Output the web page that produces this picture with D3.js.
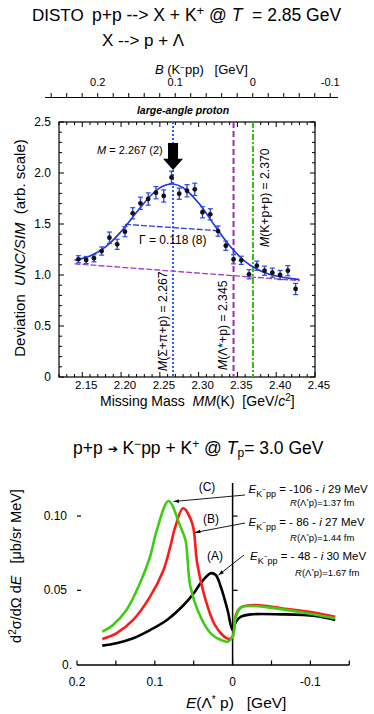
<!DOCTYPE html>
<html><head><meta charset="utf-8">
<script src="https://cdn.jsdelivr.net/npm/d3@7"></script>
<style>
html,body{margin:0;padding:0;background:#fff;}
svg{display:block;font-family:"Liberation Sans",Arial,Helvetica,sans-serif;}
svg text{white-space:pre;}
</style></head>
<body>
<svg id="c" width="374" height="714"></svg>
<script>
// ---------- Top chart data (DISTO) ----------
const mmX = [2.145,2.155,2.165,2.175,2.185,2.195,2.205,2.215,2.225,2.235,2.245,2.255,2.265,2.275,2.285,2.295,2.305,2.315,2.325,2.335,2.345,2.355,2.365,2.375,2.385,2.395,2.405,2.415,2.425];
const devY = [1.154,1.147,1.164,1.235,1.366,1.301,1.425,1.605,1.703,1.745,1.807,1.775,1.958,1.797,1.826,1.840,1.615,1.595,1.431,1.287,1.154,1.144,1.007,1.091,1.042,1.023,1.000,1.042,0.863];
const devErr = [0.035,0.035,0.035,0.04,0.055,0.05,0.05,0.055,0.06,0.06,0.06,0.06,0.06,0.055,0.06,0.06,0.055,0.055,0.05,0.045,0.045,0.04,0.045,0.045,0.045,0.045,0.045,0.05,0.055];
const fitX = [2.14,2.16,2.18,2.20,2.22,2.24,2.255,2.267,2.28,2.30,2.32,2.34,2.36,2.38,2.40,2.43];
const fitY = [1.145,1.186,1.276,1.425,1.615,1.792,1.875,1.892,1.855,1.705,1.492,1.287,1.131,1.040,0.990,0.955];
const bgX = [2.14,2.43];
const bgY = [1.11,0.945];
const halfX = [2.205,2.3255];
const halfY = [1.497,1.434];
const refMass = [2.267,2.345,2.370];
const refLabel = [["M","(Σ+π+p) = 2.267"],["M","(Λ*+p) = 2.345"],["M","(K+p+p) = 2.370"]];
const mmTicks = [2.15,2.20,2.25,2.30,2.35,2.40,2.45];
const devTicks = [0,0.5,1.0,1.5,2.0,2.5];
const bTicks = [0.2,0.1,0,-0.1];
const peakM = 2.267;

// ---------- Bottom chart data ----------
const eC = [0.1675,0.1538,0.1364,0.1191,0.1061,0.0974,0.0823,0.0671,0.0606,0.0542,0.0412,0.0282,0.0152,0.0065,0,-0.0043,-0.0108,-0.0238,-0.0455,-0.0844,-0.1319];
const vC = [0.0221,0.0266,0.0367,0.0547,0.0726,0.0906,0.1102,0.0929,0.0839,0.0524,0.0322,0.0210,0.0165,0.0154,0.0187,0.0322,0.0385,0.0394,0.0385,0.0356,0.0311];
const eB = [0.1675,0.1494,0.1278,0.1061,0.0888,0.0801,0.0736,0.0636,0.0519,0.0455,0.0347,0.0239,0.0130,0.0044,0,-0.0043,-0.0108,-0.0281,-0.0627,-0.1060,-0.1319];
const vB = [0.0172,0.0210,0.0300,0.0457,0.0637,0.0794,0.0929,0.1053,0.0951,0.0682,0.0435,0.0278,0.0199,0.0172,0.0187,0.0334,0.0385,0.0401,0.0379,0.0349,0.0322];
const eA = [0.1675,0.1494,0.1278,0.1061,0.0844,0.0629,0.0499,0.0412,0.0282,0.0217,0.0152,0.0065,0,-0.0043,-0.0108,-0.0238,-0.0627,-0.1060,-0.1319];
const vA = [0.0127,0.0143,0.0177,0.0232,0.0300,0.0401,0.0480,0.0547,0.0615,0.0603,0.0524,0.0367,0.0232,0.0288,0.0322,0.0338,0.0338,0.0327,0.0300];
const eTicks = [0.2,0.1,0,-0.1];
const vTicks = [0.05,0.10];
const curveNames = ["(C)","(B)","(A)"];
const energies = ["-106 - ","- 86 - ","- 48 - "];
const widths = [" 29 MeV"," 27 MeV"," 30 MeV"];
const radii = ["=1.37 fm","=1.44 fm","=1.67 fm"];

const svg = d3.select("#c");

// ================= TOP CHART =================
const x = d3.scaleLinear().domain([2.12,2.45]).range([59,315]);
const y = d3.scaleLinear().domain([0,2.5]).range([377,122]);
const bScale = d3.scaleLinear().domain([0.268,-0.11]).range([45,338]);

// titles
svg.append("text").attr("x",32).attr("y",20.5).attr("font-size",17).text("DISTO");
const t1b = svg.append("text").attr("x",92).attr("y",20.5).attr("font-size",17.5);
t1b.append("tspan").text("p+p --> X + K");
t1b.append("tspan").attr("dy",-6).attr("font-size",13).text("+");
t1b.append("tspan").attr("dy",6).text(" @ ");
t1b.append("tspan").attr("font-style","italic").text("T");
t1b.append("tspan").text("  = 2.85 GeV");
svg.append("text").attr("x",102).attr("y",45.5).attr("font-size",17).text("X --> p + Λ");

// B axis (top)
const bt = svg.append("text").attr("x",155).attr("y",73.5).attr("font-size",13);
bt.append("tspan").attr("font-style","italic").text("B");
bt.append("tspan").text(" (K");
bt.append("tspan").attr("dy",-4).attr("font-size",8).text("−");
bt.append("tspan").attr("dy",4).text("pp)   [GeV]");
svg.append("line").attr("x1",45).attr("x2",338).attr("y1",97.5).attr("y2",97.5).attr("stroke","#000").attr("stroke-width",1);
const bMinor = d3.range(26,-12,-2).map(d=>d/100);
svg.selectAll(".bmin").data(bMinor).enter().append("line")
  .attr("x1",d=>bScale(d)).attr("x2",d=>bScale(d)).attr("y1",97.5).attr("y2",93)
  .attr("stroke","#000").attr("stroke-width",1);
svg.selectAll(".blab").data(bTicks).enter().append("text")
  .attr("x",d=>bScale(d)).attr("y",85.5).attr("text-anchor","middle").attr("font-size",11)
  .text(d=>d===0?"0":String(d));

svg.append("text").attr("x",183).attr("y",113.5).attr("text-anchor","middle")
  .attr("font-size",10.5).attr("font-weight","bold").attr("font-style","italic").text("large-angle proton");

// frame
const g = svg.append("g");
g.append("rect").attr("x",59).attr("y",122).attr("width",256).attr("height",255)
  .attr("fill","none").attr("stroke","#000").attr("stroke-width",1.2);

// y ticks (left and right, inward)
const yMinor = d3.range(0,26).map(d=>d/10);
yMinor.forEach(v=>{
  const major = Math.abs(v*2-Math.round(v*2))<1e-6;
  const L = major?5:3;
  g.append("line").attr("x1",59).attr("x2",59+L).attr("y1",y(v)).attr("y2",y(v)).attr("stroke","#000");
  g.append("line").attr("x1",315).attr("x2",315-L).attr("y1",y(v)).attr("y2",y(v)).attr("stroke","#000");
});
g.selectAll(".ylab").data(devTicks).enter().append("text")
  .attr("x",51).attr("y",d=>y(d)+4).attr("text-anchor","end").attr("font-size",12)
  .text(d=>d===0?"0":d.toFixed(1));

// x ticks
const xMinor = d3.range(212,246).map(d=>d/100);
xMinor.forEach(v=>{
  const major = Math.abs(v*20-Math.round(v*20))<1e-6;
  const L = major?5:3;
  g.append("line").attr("x1",x(v)).attr("x2",x(v)).attr("y1",377).attr("y2",377-L).attr("stroke","#000");
  g.append("line").attr("x1",x(v)).attr("x2",x(v)).attr("y1",122).attr("y2",122+L).attr("stroke","#000");
});
g.selectAll(".xlab").data(mmTicks).enter().append("text")
  .attr("x",d=>x(d)+4).attr("y",389).attr("text-anchor","middle").attr("font-size",11.5)
  .text(d=>d.toFixed(2));

// axis titles
const xt = svg.append("text").attr("x",100).attr("y",406).attr("font-size",14);
xt.append("tspan").text("Missing Mass  ");
xt.append("tspan").attr("font-style","italic").text("MM");
xt.append("tspan").text("(K)  [GeV/");
xt.append("tspan").attr("font-style","italic").text("c");
xt.append("tspan").attr("dy",-5).attr("font-size",10).text("2");
xt.append("tspan").attr("dy",5).text("]");

const yt = svg.append("text").attr("transform","translate(25,248) rotate(-90)")
  .attr("text-anchor","middle").attr("font-size",15);
yt.append("tspan").text("Deviation  ");
yt.append("tspan").attr("font-style","italic").text("UNC/SIM");
yt.append("tspan").text("  (arb. scale)");

// reference lines
const refColor = ["#2a5cff","#9b2fa8","#33bb11"];
const refDash = ["2,2","6,3","6,2,2,2"];
refMass.forEach((m,i)=>{
  g.append("line").attr("x1",x(m)).attr("x2",x(m)).attr("y1",122).attr("y2",377)
    .attr("stroke",refColor[i]).attr("stroke-width",2).attr("stroke-dasharray",refDash[i]);
});
// rotated labels (offset in px from their line)
const refLabOff = [[-6.5,371],[-6.5,370],[16,247]];
refMass.forEach((m,i)=>{
  const tt = g.append("text").attr("transform",`translate(${x(m)+refLabOff[i][0]},${refLabOff[i][1]}) rotate(-90)`)
    .attr("font-size",12.2);
  tt.append("tspan").attr("font-style","italic").text(refLabel[i][0]);
  tt.append("tspan").text(refLabel[i][1]);
});

// background (purple dashed) line
const line = d3.line().x(d=>x(d[0])).y(d=>y(d[1]));
g.append("path").attr("d",line(bgX.map((d,i)=>[d,bgY[i]])))
  .attr("fill","none").attr("stroke","#9b3fc0").attr("stroke-width",1.3).attr("stroke-dasharray","6,2");
// half-max line (blue dashed)
g.append("path").attr("d",line(halfX.map((d,i)=>[d,halfY[i]])))
  .attr("fill","none").attr("stroke","#2a3fe0").attr("stroke-width",1.3).attr("stroke-dasharray","6,2");
// fit curve
const cline = d3.line().x(d=>x(d[0])).y(d=>y(d[1])).curve(d3.curveCatmullRom);
g.append("path").attr("d",cline(fitX.map((d,i)=>[d,fitY[i]])))
  .attr("fill","none").attr("stroke","#2233dd").attr("stroke-width",1.6);

// error bars & points
mmX.forEach((m,i)=>{
  const cx=x(m), y1=y(devY[i]+devErr[i]), y2=y(devY[i]-devErr[i]);
  g.append("line").attr("x1",cx).attr("x2",cx).attr("y1",y1).attr("y2",y2).attr("stroke","#2a4be0").attr("stroke-width",1.4);
  g.append("line").attr("x1",cx-2.5).attr("x2",cx+2.5).attr("y1",y1).attr("y2",y1).attr("stroke","#2a4be0").attr("stroke-width",1.2);
  g.append("line").attr("x1",cx-2.5).attr("x2",cx+2.5).attr("y1",y2).attr("y2",y2).attr("stroke","#2a4be0").attr("stroke-width",1.2);
  g.append("circle").attr("cx",cx).attr("cy",y(devY[i])).attr("r",2.4).attr("fill","#111");
});

// M annotation and arrow
const mt = g.append("text").attr("x",97).attr("y",153.5).attr("font-size",11);
mt.append("tspan").attr("font-style","italic").text("M");
mt.append("tspan").text(" = 2.267 (2)");
const ax = x(peakM);
const aTop=y(2.294), aMid=y(2.14), aTip=y(2.03);
g.append("path").attr("d",`M${ax-5},${aTop} L${ax+5},${aTop} L${ax+5},${aMid} L${ax+10},${aMid} L${ax},${aTip} L${ax-10},${aMid} L${ax-5},${aMid} Z`).attr("fill","#000");

g.append("text").attr("x",139).attr("y",244).attr("font-size",12).text("Γ = 0.118 (8)");

// ================= BOTTOM CHART =================
const ex = d3.scaleLinear().domain([0.2,-0.15]).range([77,349.3]);
const vy = d3.scaleLinear().domain([0,0.12]).range([664.5,486.4]);

const bt2 = svg.append("text").attr("x",73).attr("y",454).attr("font-size",17.5);
bt2.append("tspan").text("p+p ");
bt2.append("tspan").attr("font-size",12).attr("dy",-1).text("➔");
bt2.append("tspan").attr("dy",1).text(" K");
bt2.append("tspan").attr("dy",-6).attr("font-size",12).text("−");
bt2.append("tspan").attr("dy",6).text("pp + K");
bt2.append("tspan").attr("dy",-6).attr("font-size",12).text("+");
bt2.append("tspan").attr("dy",6).text(" @ ");
bt2.append("tspan").attr("font-style","italic").text("T");
bt2.append("tspan").attr("dy",3).attr("font-size",12).text("p");
bt2.append("tspan").attr("dy",-3).text("= 3.0 GeV");

// x axis
svg.append("line").attr("x1",77).attr("x2",349.3).attr("y1",665).attr("y2",665).attr("stroke","#000").attr("stroke-width",1.5);
const eMinor = d3.range(20,-16,-5).map(d=>d/100);
svg.selectAll(".etk").data(eMinor).enter().append("line")
  .attr("x1",d=>ex(d)).attr("x2",d=>ex(d)).attr("y1",665).attr("y2",660.5).attr("stroke","#000").attr("stroke-width",1.2);
svg.selectAll(".elab").data(eTicks).enter().append("text")
  .attr("x",d=>ex(d)).attr("y",686).attr("text-anchor","middle").attr("font-size",12)
  .text(d=>d===0?"0":String(d));
// y axis at E=0
svg.append("line").attr("x1",ex(0)).attr("x2",ex(0)).attr("y1",483).attr("y2",665).attr("stroke","#000").attr("stroke-width",1.5);
svg.selectAll(".vtk").data(vTicks).enter().append("line")
  .attr("x1",ex(0)).attr("x2",ex(0)+5).attr("y1",d=>vy(d)).attr("y2",d=>vy(d)).attr("stroke","#000").attr("stroke-width",1.2);
svg.selectAll(".vdash").data(vTicks).enter().append("line")
  .attr("x1",77).attr("x2",81).attr("y1",d=>vy(d)).attr("y2",d=>vy(d)).attr("stroke","#000").attr("stroke-width",1.2);
svg.selectAll(".vlab").data(vTicks).enter().append("text")
  .attr("x",67).attr("y",d=>vy(d)+4).attr("text-anchor","end").attr("font-size",12).text(d=>d.toFixed(2));
svg.append("text").attr("x",72).attr("y",vy(0)+4).attr("text-anchor","end").attr("font-size",12).text("0.");

// axis titles
const et = svg.append("text").attr("x",186).attr("y",708).attr("font-size",15.5);
et.append("tspan").attr("font-style","italic").text("E");
et.append("tspan").text("(Λ");
et.append("tspan").attr("dy",-5).attr("font-size",10).text("*");
et.append("tspan").attr("dy",5).text(" p)   [GeV]");

const vt = svg.append("text").attr("transform","translate(21,566) rotate(-90)").attr("text-anchor","middle").attr("font-size",14.5);
vt.append("tspan").text("d");
vt.append("tspan").attr("dy",-5).attr("font-size",10).text("2");
vt.append("tspan").attr("dy",5).text("σ/dΩ d");
vt.append("tspan").attr("font-style","italic").text("E");
vt.append("tspan").text("   [μb/sr MeV]");

// curves
const eline = d3.line().x(d=>ex(d[0])).y(d=>vy(d[1])).curve(d3.curveCatmullRom);
[[eA,vA,"#000"],[eB,vB,"#ff1a1a"],[eC,vC,"#3dcc14"]].forEach(([es,vs,col])=>{
  svg.append("path").attr("d",eline(es.map((e,i)=>[e,vs[i]])))
    .attr("fill","none").attr("stroke",col).attr("stroke-width",2.6).attr("stroke-linejoin","round");
});

// annotations
svg.append("defs").append("marker").attr("id","ah").attr("viewBox","0 0 10 10").attr("refX",10).attr("refY",5)
  .attr("markerWidth",7).attr("markerHeight",6).attr("orient","auto")
  .append("path").attr("d","M0,1.5 L10,5 L0,8.5 Z").attr("fill","#000");
const arrows = [[245,495,173.5,501.5],[245,523,195,532.5],[244,555,218.5,575]];
arrows.forEach(a=>{
  svg.append("line").attr("x1",a[0]).attr("y1",a[1]).attr("x2",a[2]).attr("y2",a[3])
    .attr("stroke","#000").attr("stroke-width",0.9).attr("marker-end","url(#ah)");
});
const nameXY = [[207,491],[211,523],[215,560]];
curveNames.forEach((n,i)=>{
  svg.append("text").attr("x",nameXY[i][0]).attr("y",nameXY[i][1]).attr("text-anchor","middle").attr("font-size",12).text(n);
});
const eTxtY = [492.5,526,560];
const rTxtY = [505.5,540.5,575.5];
const eTxtX = [248.5,248.5,250];
const rTxtX = [290,290,295];
energies.forEach((en,i)=>{
  const t = svg.append("text").attr("x",eTxtX[i]).attr("y",eTxtY[i]).attr("font-size",11.5);
  t.append("tspan").attr("font-style","italic").text("E");
  t.append("tspan").attr("dy",4).attr("font-size",9).text("K");
  t.append("tspan").attr("dy",-5).attr("font-size",6.5).text("−");
  t.append("tspan").attr("dy",5).attr("font-size",9).text("pp");
  t.append("tspan").attr("dy",-4).text(" = "+en);
  t.append("tspan").attr("font-style","italic").text("i");
  t.append("tspan").text(widths[i]);
  const r = svg.append("text").attr("x",rTxtX[i]).attr("y",rTxtY[i]).attr("font-size",9.5);
  r.append("tspan").attr("font-style","italic").text("R");
  r.append("tspan").text("(Λ");
  r.append("tspan").attr("dy",-3).attr("font-size",6).text("*");
  r.append("tspan").attr("dy",3).text("p)"+radii[i]);
});
</script>
</body></html>
